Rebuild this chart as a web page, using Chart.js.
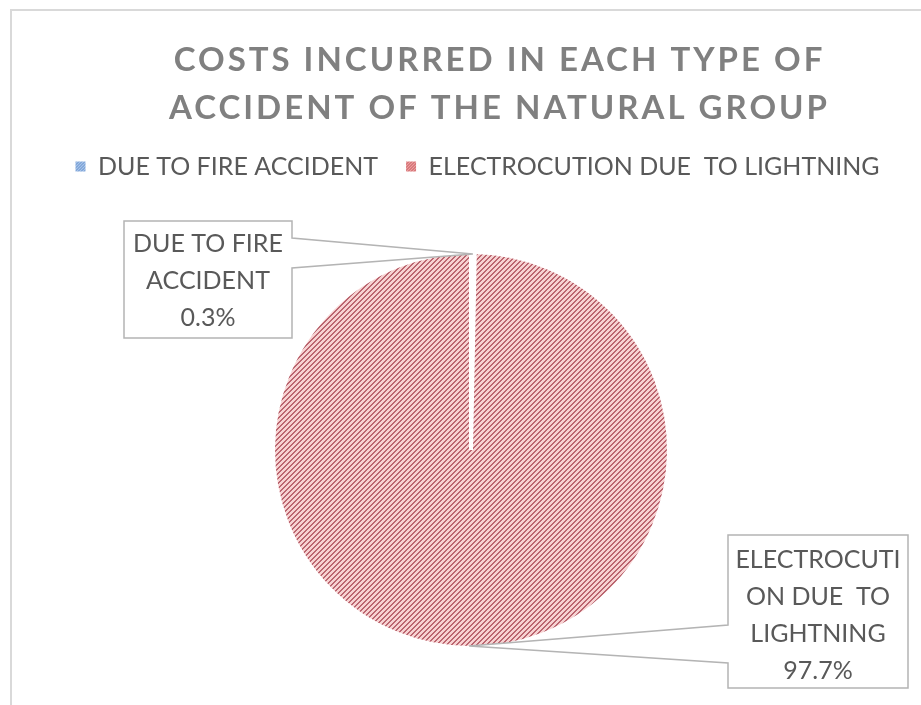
<!DOCTYPE html>
<html>
<head>
<meta charset="utf-8">
<title>Costs incurred in each type of accident of the natural group</title>
<script src="https://cdn.jsdelivr.net/npm/chart.js@4.4.1/dist/chart.umd.min.js"></script>
<style>
  html, body { margin: 0; padding: 0; background: #ffffff; overflow: hidden; }
  #wrap { position: relative; width: 921px; height: 705px; }
  #wrap canvas { position: absolute; left: 0; top: 0; }
  #frame {
    position: absolute; left: 10px; top: 9px; width: 1000px; height: 1000px;
    border-left: 2px solid #d9d9d9; border-top: 2px solid #d9d9d9;
    pointer-events: none;
  }
</style>
</head>
<body>
<div id="wrap">
  <canvas id="chart" width="921" height="705"></canvas>
  <div id="frame"></div>
</div>
<script>
// ---- data ----
const chartTitle = ['COSTS INCURRED IN EACH TYPE OF', 'ACCIDENT OF THE NATURAL GROUP'];
const categories = ['DUE TO FIRE ACCIDENT', 'ELECTROCUTION DUE  TO LIGHTNING'];
const shares = [0.3, 97.7];                       // percent
const calloutLines = [
  ['DUE TO FIRE', 'ACCIDENT'],
  ['ELECTROCUTI', 'ON DUE  TO', 'LIGHTNING']
];

// ---- layout / style ----
const TEXT_COLOR = '#595959';
const TITLE_COLOR = '#808080';
const FONT = 'Lato';
const TITLE_SHIFT = 28.5;     // title is centred on the full frame, not on the pie
const LEGEND_SHIFT = 26.5;
const LEGEND_GAP = 6;         // extra space under the legend row
const ARC_BORDER = 4;

// callout boxes: box rectangle, which side the pointer leaves from, and where
const callouts = [
  { x: 124, y: 221, w: 168, h: 117, side: 'right', p1: 17, p2: 47, firstLine: 23 },
  { x: 728, y: 535, w: 180, h: 153, side: 'left',  p1: 90, p2: 128, firstLine: 25 }
];

const canvas = document.getElementById('chart');
const ctx2d = canvas.getContext('2d');

// diagonal hatch fill ("/" direction)
function hatch(bg, fg, period, thick) {
  const c = document.createElement('canvas');
  c.width = c.height = period;
  const g = c.getContext('2d');
  g.fillStyle = bg;
  g.fillRect(0, 0, period, period);
  g.fillStyle = fg;
  for (let i = 0; i < period; i++) {
    for (let j = 0; j < period; j++) {
      if ((i + j) % period < thick) g.fillRect(i, j, 1, 1);
    }
  }
  return ctx2d.createPattern(c, 'repeat');
}

const sliceFills = ['#ffffff', hatch('#f7d2d2', '#bb6670', 5, 2)];
const legendFills = [hatch('#a9c4e8', '#5f8fcf', 3, 1), hatch('#eba0a0', '#c8555a', 3, 1)];

// letter-spaced, shifted title; shifted legend with a little room below it
const blockTweaks = {
  id: 'blockTweaks',
  afterInit(chart) {
    const title = chart.titleBlock;
    const drawTitle = title.draw.bind(title);
    title.draw = function (area) {
      const c = chart.ctx;
      c.save();
      c.letterSpacing = '3px';
      c.translate(TITLE_SHIFT, 0);
      drawTitle(area);
      c.restore();
    };
    const legend = chart.legend;
    const drawLegend = legend.draw.bind(legend);
    legend.draw = function (area) {
      const c = chart.ctx;
      c.save();
      c.translate(LEGEND_SHIFT, 0);
      drawLegend(area);
      c.restore();
    };
    const fitLegend = legend.fit.bind(legend);
    legend.fit = function () {
      fitLegend();
      this.height += LEGEND_GAP;
    };
  }
};

// data-label callouts attached to each slice's outer edge
const calloutLabels = {
  id: 'calloutLabels',
  afterDatasetsDraw(chart) {
    const c = chart.ctx;
    const meta = chart.getDatasetMeta(0);
    meta.data.forEach((arc, i) => {
      const p = arc.getProps(['x', 'y', 'startAngle', 'endAngle', 'outerRadius'], true);
      const mid = (p.startAngle + p.endAngle) / 2;
      const r = p.outerRadius - ARC_BORDER / 2;
      const ax = p.x + Math.cos(mid) * r;
      const ay = p.y + Math.sin(mid) * r;
      const b = callouts[i];

      c.save();
      c.beginPath();
      if (b.side === 'right') {
        c.moveTo(b.x, b.y);
        c.lineTo(b.x + b.w, b.y);
        c.lineTo(b.x + b.w, b.y + b.p1);
        c.lineTo(ax, ay);
        c.lineTo(b.x + b.w, b.y + b.p2);
        c.lineTo(b.x + b.w, b.y + b.h);
        c.lineTo(b.x, b.y + b.h);
      } else {
        c.moveTo(b.x, b.y);
        c.lineTo(b.x + b.w, b.y);
        c.lineTo(b.x + b.w, b.y + b.h);
        c.lineTo(b.x, b.y + b.h);
        c.lineTo(b.x, b.y + b.p2);
        c.lineTo(ax, ay);
        c.lineTo(b.x, b.y + b.p1);
      }
      c.closePath();
      c.fillStyle = '#ffffff';
      c.fill();
      c.lineWidth = 1.5;
      c.strokeStyle = '#b4b4b4';
      c.stroke();

      const lines = calloutLines[i].concat([shares[i].toFixed(1) + '%']);
      c.fillStyle = TEXT_COLOR;
      c.font = '25px ' + FONT;
      c.textAlign = 'center';
      c.textBaseline = 'middle';
      lines.forEach((t, k) => {
        c.fillText(t, b.x + b.w / 2, b.y + b.firstLine + k * 37);
      });
      c.restore();
    });
  }
};

new Chart(canvas, {
  type: 'pie',
  data: {
    labels: categories,
    datasets: [{
      data: shares,
      backgroundColor: sliceFills,
      borderColor: '#ffffff',
      borderWidth: ARC_BORDER,
      radius: 198
    }]
  },
  options: {
    responsive: false,
    animation: false,
    events: [],
    layout: { padding: { left: 21, right: 0, top: 0, bottom: 0 } },
    plugins: {
      title: {
        display: true,
        text: chartTitle,
        color: TITLE_COLOR,
        font: { family: FONT, size: 33, weight: 'bold', lineHeight: 48 / 33 },
        padding: { top: 36, bottom: -6 }
      },
      legend: {
        display: true,
        position: 'top',
        align: 'start',
        labels: {
          color: TEXT_COLOR,
          font: { family: FONT, size: 25 },
          boxWidth: 10,
          boxHeight: 10,
          padding: 28,
          generateLabels(chart) {
            const items = Chart.overrides.pie.plugins.legend.labels.generateLabels(chart);
            return items.map((it, i) => Object.assign({}, it, {
              fillStyle: legendFills[i],
              strokeStyle: 'rgba(0,0,0,0)',
              lineWidth: 0
            }));
          }
        }
      },
      tooltip: { enabled: false }
    }
  },
  plugins: [blockTweaks, calloutLabels]
});
</script>
</body>
</html>
